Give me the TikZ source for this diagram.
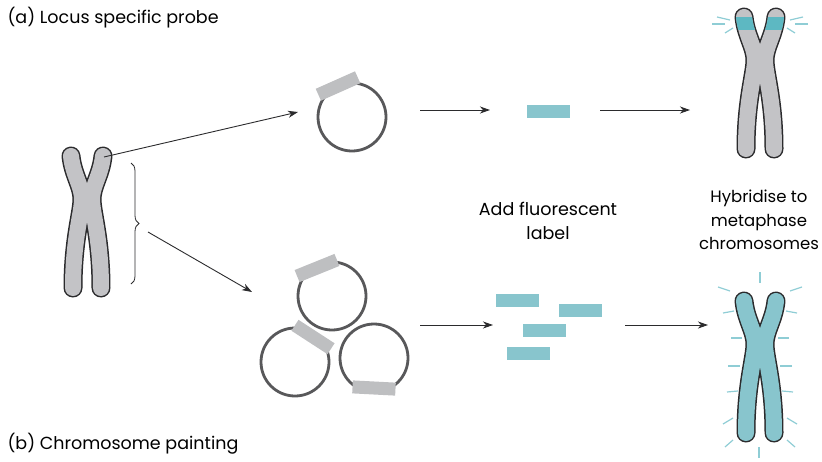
\documentclass[tikz,border=0pt]{standalone}
\usepackage{fontspec}
\setmainfont{Poppins}
\usetikzlibrary{arrows.meta,decorations.pathreplacing}

\definecolor{outline}{HTML}{2B2B2D}
\definecolor{chromgrey}{HTML}{C3C3C6}
\definecolor{insertgrey}{HTML}{BEBFC1}
\definecolor{ringgrey}{HTML}{58585A}
\definecolor{probe}{HTML}{88C5CD}
\definecolor{band}{HTML}{5DB8C2}
\definecolor{glow}{HTML}{8FCDD5}

% one chromatid, centromere at the origin (y runs down)
\newcommand{\chromatid}{(-16,-43) .. controls (-14,-24) and (-5,-13) .. (-5,0) .. controls (-5,14) and (-14,40) .. (-14,89)}

% #1,#2 centromere, #3 fill colour
\newcommand{\drawchromosome}[3]{%
  \begin{scope}[shift={(#1,#2)}]
    \foreach \s in {1,-1}
      \draw[xscale=\s, line width=19pt, line cap=round, draw=outline] \chromatid;
    \foreach \s in {1,-1}
      \draw[xscale=\s, line width=16pt, line cap=round, draw=#3] \chromatid;
  \end{scope}}

\begin{document}
\begin{tikzpicture}[x=1pt,y=-1pt,font=\fontsize{17.5}{23.5}\selectfont]
    \tikzstyle{plasmid}=[circle,draw=ringgrey,line width=2.8pt,minimum size=68pt,inner sep=0pt]
    \tikzstyle{insert}=[fill=insertgrey,minimum width=43pt,minimum height=13pt,inner sep=0pt]
    \tikzstyle{probe}=[fill=probe,minimum width=43pt,minimum height=13pt,inner sep=0pt]
    \tikzstyle{ray}=[draw=glow,line width=1.2pt]
    \tikzstyle{arr}=[-{Stealth[length=10pt,width=7pt,inset=3pt]},draw=outline,line width=0.9pt]

    \useasboundingbox (0,0) rectangle (822,461);

    % chromosomes
    \drawchromosome{87}{199}{chromgrey}
    \drawchromosome{760}{60}{chromgrey}
    \begin{scope}[shift={(760,60)}]
        \clip (-30,-43) rectangle (30,-31);
        \foreach \s in {1,-1}
          \draw[xscale=\s, line width=16pt, line cap=round, draw=band] \chromatid;
    \end{scope}
    \drawchromosome{760}{344}{probe}

    % glow round the labelled chromosomes
    \foreach \a/\b/\c/\d in {712/24/725/24, 717/17/730/20, 725/33/733/28}
        \draw[ray] (\a,\b) -- (\c,\d) ({1520-\a},\b) -- ({1520-\c},\d);
    \foreach \a/\b/\c/\d in {718/287/730/291, 723/313/734/311, 731/338/742/338,
        728/366/740/366, 727/392/738/391, 723/424/733/418, 725/447/733/440}
        \draw[ray] (\a,\b) -- (\c,\d) ({1520-\a},\b) -- ({1520-\c},\d);
    \draw[ray] (760,272) -- (760,283);
    \draw[ray] (759,447) -- (759,458);

    % brace
    \draw[outline,line width=0.8pt,decorate,decoration={brace,amplitude=8pt}]
        (131,163) -- (131,284);

    % cloned probes
    \node[plasmid] (p0) at (352,117) {};
    \node[insert,rotate=24] (i0) at (338,86) {};
    \node[plasmid] (p1) at (332,296) {};
    \node[insert,rotate=22] (i1) at (317,268) {};
    \node[plasmid] (p2) at (295,362) {};
    \node[insert,rotate=-33] (i2) at (313,337) {};
    \node[plasmid] (p3) at (374,358) {};
    \node[insert,rotate=-3] (i3) at (374,388) {};

    % labelled probes
    \node[probe] (f0) at (548,111) {};
    \node[probe] (f1) at (517,300) {};
    \node[probe] (f2) at (580,310) {};
    \node[probe] (f3) at (544,330) {};
    \node[probe] (f4) at (528,353) {};

    \coordinate (c0) at (104,157);
    \coordinate (c1) at (148,232);
    \coordinate (e0) at (298,112);
    \coordinate (e1) at (252,292);
    \coordinate (a0) at (420,110);
    \coordinate (b0) at (490,110);
    \coordinate (a1) at (600,110);
    \coordinate (b1) at (690,110);
    \coordinate (a2) at (420,325);
    \coordinate (b2) at (493,325);
    \coordinate (a3) at (625,325);
    \coordinate (b3) at (708,325);

    \draw[arr] (c0) -- (e0);
    \draw[arr] (c1) -- (e1);
    \draw[arr] (a0) -- (b0);
    \draw[arr] (a1) -- (b1);
    \draw[arr] (a2) -- (b2);
    \draw[arr] (a3) -- (b3);

    \node[anchor=west] (lblA) at (4,18) {(a) Locus specific probe};
    \node[anchor=west] (lblB) at (4,444) {(b) Chromosome painting};
    \node[align=center] (addlbl) at (548,221) {Add fluorescent\\label};
    \node[align=center,font=\fontsize{16.5}{23.5}\selectfont] (hyb) at (759,220)
        {Hybridise to\\metaphase\\chromosomes};
\end{tikzpicture}
\end{document}
